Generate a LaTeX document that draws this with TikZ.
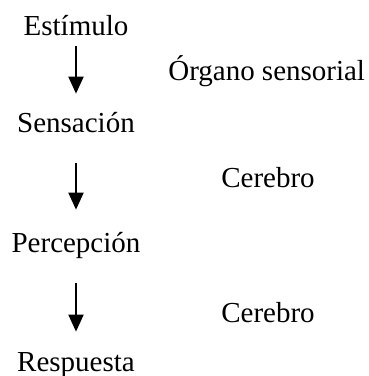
\documentclass[tikz,border=0pt]{standalone}
\usepackage{fontspec}
\setmainfont{Liberation Serif}
\usetikzlibrary{arrows.meta, positioning}

\begin{document}
\begin{tikzpicture}[x=0.02cm, y=-0.02cm]
    \tikzset{
  etapa/.style={inner sep=0pt, anchor=base, text height=0.406cm,
    text depth=0.128cm, font=\fontsize{16.5}{19.8}\selectfont},
  organo/.style={etapa, anchor=base west},
  flecha/.style={-{Triangle[length=0.34cm, width=0.3cm]}, line width=1.1pt},
}
% ── Frame ─────────────────────────────────────────────────────
\useasboundingbox (0,0) rectangle (369,376);

% ── Stages (left column) ──────────────────────────────────────
\node[etapa] (estimulo)   at (76, 35)  {Estímulo};
\node[etapa] (sensacion)  at (76, 132) {Sensación};
\node[etapa] (percepcion) at (76, 252) {Percepción};
\node[etapa] (respuesta)  at (76, 371) {Respuesta};

% ── What acts at each step (right column) ────────────────────
\node[organo] (organo)   at (168, 80)  {Órgano sensorial};
\node[organo] (cerebroA) at (221, 187) {Cerebro};
\node[organo] (cerebroB) at (221, 322) {Cerebro};

% ── Arrows ────────────────────────────────────────────────────
\draw[flecha, shorten <=0.092cm, shorten >=0.354cm] (estimulo.south) -- (sensacion.north);
\draw[flecha, shorten <=0.492cm, shorten >=0.434cm] (sensacion.south) -- (percepcion.north);
\draw[flecha, shorten <=0.492cm, shorten >=0.374cm] (percepcion.south) -- (respuesta.north);

  \end{tikzpicture}
\end{document}
